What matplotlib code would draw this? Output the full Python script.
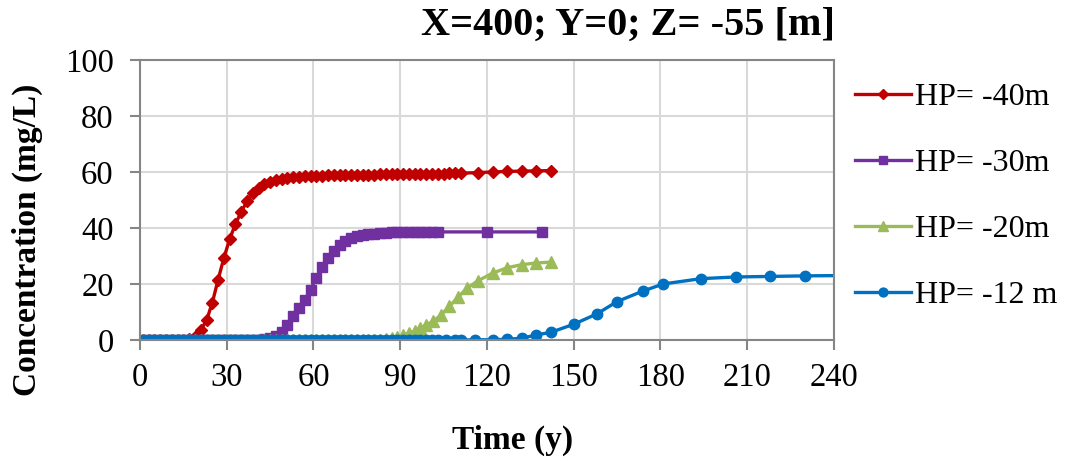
import matplotlib.pyplot as plt

# HP = -40 m
red_t = list(range(1, 112, 2)) + [117, 122, 127, 132, 137, 142]
red_c = [0, 0, 0, 0, 0, 0, 0, 0, 0.2, 1.2, 3.5, 7.0, 13.3, 21.5, 29.3, 36.0,
         41.4, 45.8, 49.5, 52.4, 54.2, 55.6, 56.5, 57.2, 57.6, 57.9, 58.1, 58.3,
         58.4, 58.5, 58.6, 58.7, 58.75, 58.8, 58.85, 58.9, 58.95, 59.0, 59.05,
         59.1, 59.1, 59.15, 59.2, 59.2, 59.25, 59.3, 59.3, 59.35, 59.35, 59.4,
         59.4, 59.45, 59.45, 59.5, 59.5, 59.55,
         59.8, 60.0, 60.2, 60.3, 60.4, 60.5]

# HP = -30 m
purple_t = list(range(1, 104, 2)) + [120, 139]
purple_c = [0] * 21 + [0.2, 0.6, 1.5, 3.0, 5.5, 8.6, 11.4, 14.3, 18.0, 22.3,
                       26.0, 29.3, 31.8, 33.8, 35.2, 36.3, 37.1, 37.6, 37.9,
                       38.0, 38.2, 38.3, 38.4, 38.45, 38.5, 38.5, 38.55, 38.55,
                       38.6, 38.6, 38.6, 38.6, 38.6]

# HP = -20 m
green_t = list(range(1, 98, 2)) + [99, 101.5, 104, 107, 110, 113, 117, 122, 127,
                                   132, 137, 142]
green_c = [0] * 42 + [0.3, 0.7, 1.2, 1.8, 2.4, 3.2, 4.2,
                      5.3, 6.8, 8.8, 12.0, 15.3, 18.4, 21.2, 23.9, 25.8, 26.9,
                      27.5, 27.8]

# HP = -12 m
blue_t = list(range(1, 104, 2)) + [106, 109, 111, 116, 122, 127, 132, 137, 142,
                                   150, 158, 165, 174, 181, 194, 206, 218, 230,
                                   242]
blue_c = [0] * 52 + [0, 0, 0, 0.05, 0.1, 0.25, 0.6, 1.8, 2.7, 5.6, 9.3, 13.7,
                     17.5, 20.0, 21.9, 22.5, 22.7, 22.9, 23.0]

labels = ['HP= -40m', 'HP= -30m', 'HP= -20m', 'HP= -12 m']
colors = ['#C00000', '#7030A0', '#9BBB59', '#0070C0']
markers = ['D', 's', '^', 'o']
msizes = [6, 7, 8, 7.5]

xticks = list(range(0, 241, 30))
yticks = list(range(0, 101, 20))

plt.rcParams['font.family'] = ['Liberation Serif', 'DejaVu Serif']

fig = plt.figure(figsize=(10.69, 4.59), dpi=100)
ax = fig.add_axes([0.131, 0.2593, 0.649, 0.61])

series = [(red_t, red_c), (purple_t, purple_c), (green_t, green_c),
          (blue_t, blue_c)]
for (t, c), lab, col, mk, ms in zip(series, labels, colors, markers, msizes):
    ax.plot(t, c, color=col, marker=mk, markersize=ms, linewidth=2.4,
            label=lab)

ax.set_xlim(0, 240)
ax.set_ylim(0, 100)
ax.set_xticks(xticks)
ax.set_yticks(yticks)
ax.grid(True, color='#d9d9d9', linewidth=1.5)
ax.set_axisbelow(True)
for s in ax.spines.values():
    s.set_color('#868686')
    s.set_linewidth(1.5)
ax.tick_params(axis='both', labelsize=23.5, color='#868686', width=1.5,
               length=7, direction='out')
ax.tick_params(axis='y', pad=12)
ax.tick_params(axis='x', pad=9)

fig.text(0.781, 1 - 25 / 459, 'X=400; Y=0; Z= -55 [m]', ha='right',
         va='center', fontsize=29, fontweight='bold')
fig.text(27 / 1069, 1 - 240 / 459, 'Concentration (mg/L)', rotation=90,
         ha='center', va='center', fontsize=24, fontweight='bold')
fig.text(513 / 1069, 1 - 440 / 459, 'Time (y)', ha='center', va='center',
         fontsize=24, fontweight='bold')

fig.legend(loc='upper left', bbox_to_anchor=(842 / 1069, 1 - 70 / 459),
           frameon=False, fontsize=23, handlelength=1.75, handletextpad=0.15,
           labelspacing=1.15, markerscale=0.85, borderaxespad=0)

fig.savefig('out.png', dpi=100)
